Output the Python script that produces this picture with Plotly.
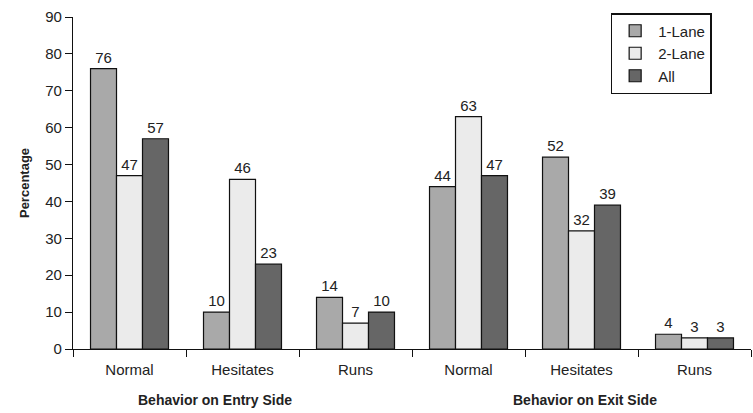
import plotly.graph_objects as go

categories = ["Normal", "Hesitates", "Runs", "Normal ", "Hesitates ", "Runs "]
tick_labels = ["Normal", "Hesitates", "Runs", "Normal", "Hesitates", "Runs"]
one_lane = [76, 10, 14, 44, 52, 4]
two_lane = [47, 46, 7, 63, 32, 3]
all_lanes = [57, 23, 10, 47, 39, 3]
y_ticks = [0, 10, 20, 30, 40, 50, 60, 70, 80, 90]
group_titles = ["Behavior on Entry Side", "Behavior on Exit Side"]

font = "Liberation Sans, Arial, sans-serif"
series = [("1-Lane", one_lane, "#a9a9a9"), ("2-Lane", two_lane, "#ebebeb"), ("All", all_lanes, "#666666")]

fig = go.Figure()
for name, vals, col in series:
    fig.add_trace(go.Bar(
        name=name, x=categories, y=vals, legendgroup=name,
        marker=dict(color=col, line=dict(color="#111111", width=1.2)),
        text=[str(v) for v in vals], textposition="outside",
        textfont=dict(family=font, size=15, color="#222222"),
        cliponaxis=False,
    ))

fig.update_layout(
    width=753, height=413,
    margin=dict(l=73, r=2, t=17, b=64),
    paper_bgcolor="white", plot_bgcolor="white",
    barmode="group", bargap=0.31, bargroupgap=0,
    font=dict(family=font, size=14, color="#222222"),
    showlegend=True,
    legend=dict(x=0.793, y=1.012, xanchor="left", yanchor="top",
                bordercolor="#111111", borderwidth=1.5, bgcolor="white",
                font=dict(size=15, family=font, color="#222222"),
                itemwidth=36, tracegroupgap=7, traceorder="normal"),
    xaxis=dict(
        tickmode="array", tickvals=categories, ticktext=tick_labels,
        tickson="boundaries", ticks="outside", ticklen=7, tickcolor="#111111",
        showline=True, linecolor="#111111", linewidth=1.2, ticklabelstandoff=7,
        showgrid=False, tickfont=dict(size=15, family=font, color="#222222"),
    ),
    yaxis=dict(
        range=[0, 90], tickvals=y_ticks, ticks="outside", ticklen=7,
        tickcolor="#111111", showline=True, linecolor="#111111", linewidth=1.2,
        showgrid=False, zeroline=False,
        tickfont=dict(size=15, family=font, color="#222222"),
        title=dict(text="<b>Percentage</b>", font=dict(size=13, family=font, color="#222222"), standoff=12),
    ),
)

for i, t in enumerate(group_titles):
    fig.add_annotation(
        x=[0.21, 0.755][i], y=-0.155, xref="paper", yref="paper",
        xanchor="center", yanchor="middle", showarrow=False,
        text="<b>" + t + "</b>",
        font=dict(size=14, family=font, color="#222222"),
    )

fig.write_html("out.html")
